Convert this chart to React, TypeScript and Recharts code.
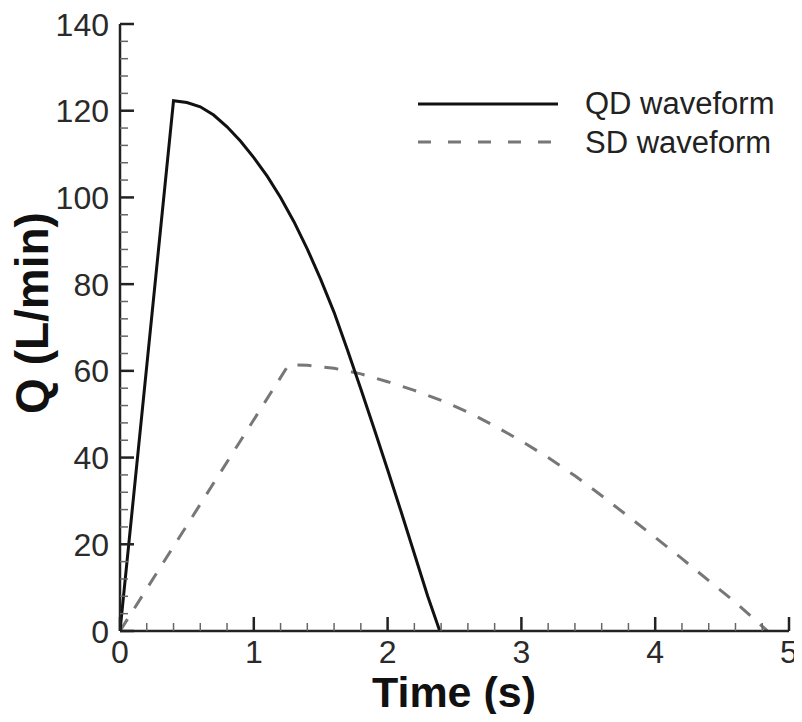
import { LineChart, Line, XAxis, YAxis, Legend } from 'recharts';

// QD waveform (solid)
const qdTime = [0, 0.4, 0.5, 0.6, 0.7, 0.8, 0.9, 1.0, 1.1, 1.2, 1.3, 1.4, 1.5, 1.6, 1.7, 1.8, 1.9, 2.0, 2.1, 2.2, 2.3, 2.39];
const qdFlow = [0, 122.3, 121.9, 120.9, 119.0, 116.3, 113.0, 109.2, 104.9, 100.0, 94.4, 88.1, 81.1, 73.5, 64.8, 55.8, 46.6, 37.2, 27.6, 17.8, 8.0, 0];

// SD waveform (dashed)
const sdTime = [0, 1.26, 1.4, 1.6, 1.8, 2.0, 2.2, 2.4, 2.6, 2.8, 3.0, 3.2, 3.4, 3.6, 3.8, 4.0, 4.2, 4.4, 4.6, 4.84];
const sdFlow = [0, 61.4, 61.3, 60.6, 59.3, 57.5, 55.5, 53.2, 50.5, 47.3, 43.8, 40.0, 35.8, 31.2, 26.4, 21.6, 16.7, 11.6, 6.6, 0];

const xTickLabels = [0, 1, 2, 3, 4, 5];
const yTickLabels = [0, 20, 40, 60, 80, 100, 120, 140];

const qdData = qdTime.map((t, i) => ({ t, q: qdFlow[i] }));
const sdData = sdTime.map((t, i) => ({ t, q: sdFlow[i] }));

const FONT = '"Liberation Sans", Arial, sans-serif';

function withMinor(major: number[], parts: number) {
  const out: number[] = [];
  major.forEach((v, i) => {
    out.push(v);
    if (i < major.length - 1) {
      const step = (major[i + 1] - v) / parts;
      for (let k = 1; k < parts; k++) out.push(Math.round((v + k * step) * 1000) / 1000);
    }
  });
  return out;
}

const XTick = (props: any) => {
  const { x, y, payload } = props;
  const major = xTickLabels.includes(payload.value);
  return (
    <g>
      <line x1={x} y1={y} x2={x} y2={y - (major ? 14 : 8)} stroke={major ? '#222' : '#666'} strokeWidth={major ? 2.5 : 1.5} />
      {major && (
        <text x={x} y={y + 32} textAnchor="middle" fontSize={32} fill="#2a2a2a" fontFamily={FONT}>
          {payload.value}
        </text>
      )}
    </g>
  );
};

const YTick = (props: any) => {
  const { x, y, payload } = props;
  const major = yTickLabels.includes(payload.value);
  return (
    <g>
      <line x1={x} y1={y} x2={x + (major ? 14 : 8)} y2={y} stroke={major ? '#222' : '#666'} strokeWidth={major ? 2.5 : 1.5} />
      {major && (
        <text x={x - 11} y={y + 11.5} textAnchor="end" fontSize={32} fill="#2a2a2a" fontFamily={FONT}>
          {payload.value}
        </text>
      )}
    </g>
  );
};

const LegendBox = () => (
  <svg width={390} height={90} style={{ display: 'block', overflow: 'visible' }}>
    <line x1={10} y1={24} x2={150} y2={24} stroke="#111" strokeWidth={3} />
    <text x={177} y={34} fontSize={31} fill="#222" fontFamily={FONT}>QD waveform</text>
    <line x1={10} y1={62} x2={150} y2={62} stroke="#777" strokeWidth={3} strokeDasharray="13 17" />
    <text x={177} y={73} fontSize={31} fill="#222" fontFamily={FONT}>SD waveform</text>
  </svg>
);

export default function App() {
  return (
    <div style={{ width: 786, height: 706 }}>
      <style>{'.recharts-wrapper, .recharts-surface { overflow: visible !important; }'}</style>
      <LineChart width={786} height={706} margin={{ top: 16, right: 5, left: 0, bottom: 0 }}>
        <XAxis
          type="number"
          dataKey="t"
          domain={[0, 5]}
          ticks={withMinor(xTickLabels, 5)}
          interval={0}
          height={83}
          tickSize={0}
          tickMargin={0}
          tickLine={false}
          tick={<XTick />}
          axisLine={{ stroke: '#222', strokeWidth: 2.5 }}
          allowDataOverflow
          label={() => (
            <text x={446} y={699} textAnchor="middle" fontSize={43} fontWeight="bold" fill="#111" fontFamily={FONT}>
              Time (s)
            </text>
          )}
        />
        <YAxis
          type="number"
          domain={[0, 140]}
          ticks={withMinor(yTickLabels, 5)}
          interval={0}
          width={112}
          tickSize={0}
          tickMargin={0}
          tickLine={false}
          tick={<YTick />}
          axisLine={{ stroke: '#222', strokeWidth: 2.5 }}
          allowDataOverflow
          label={() => (
            <text
              x={40}
              y={305}
              transform="rotate(-90 40 305)"
              textAnchor="middle"
              fontSize={46}
              fontWeight="bold"
              fill="#111"
              fontFamily={FONT}
            >
              Q (L/min)
            </text>
          )}
        />
        <Legend
          layout="horizontal"
          verticalAlign="middle"
          align="center"
          content={<LegendBox />}
          wrapperStyle={{ position: 'absolute', left: 400, top: 72, width: 390, height: 90 }}
        />
        <Line data={sdData} dataKey="q" name="SD waveform" type="linear" stroke="#777" strokeWidth={3} strokeDasharray="14 13" dot={false} isAnimationActive={false} />
        <Line data={qdData} dataKey="q" name="QD waveform" type="linear" stroke="#111" strokeWidth={3} dot={false} isAnimationActive={false} />
      </LineChart>
    </div>
  );
}
